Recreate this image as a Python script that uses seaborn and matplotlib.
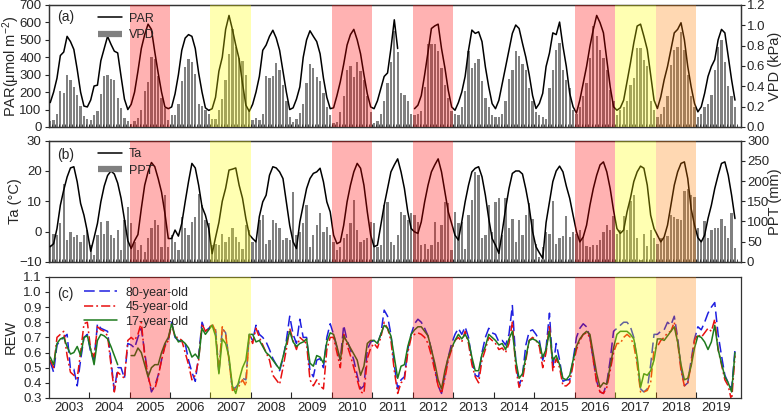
import matplotlib
matplotlib.use("Agg")
import matplotlib.pyplot as plt
import numpy as np
import pandas as pd
import seaborn as sns
from matplotlib.lines import Line2D

sns.set_style("ticks")
plt.rcParams["font.family"] = ["Liberation Sans", "DejaVu Sans"]
plt.rcParams["mathtext.default"] = "regular"

nan = np.nan

# DATA (monthly, Jan 2003 - Dec 2019)
years = list(range(2003, 2020))
shade_years = [2005, 2007, 2010, 2012, 2016, 2017, 2018]
shade_colors = ["#ff0000", "#ffff00", "#ff0000", "#ff0000", "#ff0000", "#ffff00", "#ff7f00"]

par = [
    140, 200, 280, 410, 430, 520, 490, 445, 330, 200, 120, 115,
    155, 235, 240, 380, 450, 520, 475, 435, 425, 290, 160, 100,
    130, 200, 320, 450, 530, 590, 560, 430, 310, 200, 115, 105,
    115, 190, 300, 440, 510, 530, 520, 450, 310, 200, 110, 95,
    105, 170, 320, 400, 560, 640, 560, 470, 390, 250, 125, 90,
    130, 200, 290, 440, 470, 520, 555, 510, 440, 320, 200, 100,
    110, 160, 230, 400, 500, 552, 520, 490, 420, 280, 170, 105,
    110, 180, 260, 360, 470, 530, 560, 500, 420, 300, 190, 115,
    105, 150, 220, 290, 310, 450, 615, 450, nan, nan, nan, nan,
    105, 125, 180, 300, 430, 565, 580, 590, 450, 340, 210, 115,
    96, 140, 200, 290, 440, 556, 537, 546, 490, 345, 230, 134,
    105, 153, 250, 345, 440, 537, 585, 565, 480, 400, 300, 180,
    106, 135, 193, 347, 424, 540, 530, 602, 463, 347, 193, 116,
    80, 154, 250, 347, 463, 560, 640, 598, 540, 386, 231, 116,
    96, 110, 154, 260, 366, 482, 579, 590, 520, 444, 300, 154,
    106, 173, 270, 347, 444, 540, 560, 598, 500, 347, 231, 135,
    87, 116, 193, 290, 347, 386, 500, 560, 540, 405, 270, 154,
]

vpd = [
    0.06, 0.065, 0.13, 0.35, 0.33, 0.51, 0.46, 0.39, 0.31, 0.21, 0.11, 0.08,
    0.07, 0.12, 0.16, 0.32, 0.50, 0.51, 0.47, 0.46, 0.29, 0.19, 0.09, 0.06,
    0.03, 0.06, 0.09, 0.17, 0.35, 0.44, 0.69, 0.67, 0.50, 0.29, 0.19, 0.07,
    0.12, 0.12, 0.23, 0.45, 0.59, 0.67, 0.64, 0.52, 0.23, 0.21, 0.17, 0.13,
    0.08, 0.08, 0.17, 0.28, 0.46, 0.72, 0.96, 0.79, 0.68, 0.65, 0.51, 0.17,
    0.07, 0.09, 0.07, 0.13, 0.50, 0.48, 0.50, 0.63, 0.56, 0.41, 0.26, 0.10,
    0.05, 0.08, 0.14, 0.23, 0.43, 0.62, 0.58, 0.49, 0.45, 0.33, 0.20, 0.12,
    0.04, 0.05, 0.15, 0.30, 0.56, 0.60, 0.49, 0.64, 0.55, 0.46, 0.30, 0.15,
    0.04, 0.06, 0.13, 0.26, 0.43, 0.64, 0.94, 0.74, 0.33, 0.31, 0.26, 0.13,
    0.12, 0.13, 0.16, 0.39, 0.82, 0.82, 0.82, 0.75, 0.58, 0.41, 0.29, 0.16,
    0.13, 0.12, 0.20, 0.35, 0.75, 0.58, 0.63, 0.67, 0.45, 0.29, 0.20, 0.12,
    0.10, 0.10, 0.13, 0.26, 0.47, 0.56, 0.75, 0.70, 0.62, 0.56, 0.38, 0.26,
    0.15, 0.12, 0.10, 0.08, 0.38, 0.56, 0.76, 0.83, 0.56, 0.46, 0.38, 0.17,
    0.13, 0.20, 0.30, 0.43, 0.68, 0.99, 0.89, 0.76, 0.68, 0.56, 0.36, 0.26,
    0.12, 0.17, 0.20, 0.26, 0.41, 0.48, 0.78, 0.78, 0.66, 0.60, 0.26, 0.17,
    0.10, 0.13, 0.20, 0.30, 0.61, 0.76, 0.79, 0.93, 0.76, 0.51, 0.30, 0.20,
    0.10, 0.13, 0.20, 0.23, 0.31, 0.56, 0.79, 0.86, 0.64, 0.40, 0.30, 0.20,
]

ta = [
    -5, -4, 1, 8.7, 13.7, 18, 21, 21.4, 16.4, 9.3, 5.4, 0,
    -6.5, -2, 2.7, 9.8, 15, 18.5, 20, 19, 16, 11, 4, -3,
    -5.6, -3, -1, 7.6, 15.3, 19.7, 22.8, 21.4, 17.5, 13, 6, -2.3,
    -2.3, 0.5, -1.5, 2.7, 9.8, 16.5, 22.5, 21, 15.3, 8.2, 5.4, 1,
    -7.3, -2, 3, 10, 14.3, 20.3, 20.6, 21, 15.3, 11, 4.3, -1,
    -2.3, -3.4, 5, 9.8, 12, 18.6, 21.4, 21, 19.7, 17.5, 9.8, 2,
    -3.4, -5.6, 3.2, 8.7, 14.2, 17.5, 19.2, 19.7, 20.9, 16.4, 9.8, 6.5,
    -1.2, -4, -3.4, 2.1, 9.8, 15.3, 19.7, 22.5, 20.9, 15.3, 6.5, -1.2,
    -5, -4.5, 2.1, 8.7, 14.2, 19.7, 22, 24, 19.7, 14.2, 6.5, 1,
    -0.1, -0.6, 3.2, 9.8, 15.3, 19.7, 22, 24, 19.7, 13.1, 6.5, 2.7,
    -1.2, -2.8, 3.2, 9.8, 15.3, 19.7, 20.9, 21.4, 18.1, 12, 4.3, -2.3,
    -4.5, -7.2, 0, 7.6, 14.2, 19.2, 20, 20, 19, 14, 8, 0,
    -5, -7, -8.8, 3, 9.8, 16.5, 20, 21.6, 19.7, 15, 11, 5.4,
    0, -3.4, -1.8, 2.1, 8.7, 14.2, 18.6, 22, 23, 19.7, 14.2, 7,
    1, -0.6, 0.5, 6.5, 11, 16.5, 19.7, 21.6, 20.9, 15.3, 5.4, 1,
    -1.2, -3.4, -1.8, 2.1, 8.7, 15.3, 19.7, 22.5, 23, 17.5, 7.6, 2.1,
    -2, -3.4, -1.2, 4.3, 8.7, 14.2, 18.6, 22.5, 23, 18.6, 12, 4.3,
]

ppt = [
    41, 70, 66, 95, 194, 54, 74, 62, 66, 50, 66, 78,
    41, 17, 66, 99, 70, 101, 66, 58, 78, 29, 103, 135,
    95, 50, 29, 41, 25, 58, 83, 103, 91, 37, 165, 37,
    66, 50, 29, 112, 83, 66, 99, 112, 169, 140, 103, 95,
    41, 45, 41, 70, 50, 62, 83, 62, 50, 33, 91, 78,
    50, 50, 103, 116, 45, 54, 103, 95, 83, 54, 58, 54,
    174, 66, 74, 97, 140, 37, 66, 91, 120, 74, 87, 66,
    50, 29, 37, 58, 70, 95, 153, 79, 50, 54, 58, 99,
    95, 37, 41, 140, 149, 50, 41, 66, 124, 116, 103, 120,
    116, 99, 41, 45, 33, 41, 99, 50, 91, 149, 145, 29,
    124, 95, 99, 33, 116, 153, 223, 215, 58, 66, 140, 74,
    149, 157, 66, 157, 83, 107, 50, 103, 66, 116, 145, 107,
    45, 12, 37, 75, 70, 150, 45, 58, 65, 113, 62, 75,
    70, 80, 62, 40, 38, 42, 42, 55, 75, 92, 78, 113,
    70, 80, 113, 80, 150, 165, 60, 5, 70, 40, 80, 60,
    45, 60, 60, 65, 115, 110, 105, 104, 175, 180, 165, 160,
    85, 55, 100, 60, 80, 85, 85, 105, 90, 60, 120, 35,
]

rew_80 = [
    0.54, 0.47, 0.65, 0.68, 0.70, 0.72, 0.49, 0.49, 0.38, 0.55, 0.70, 0.72,
    0.60, 0.55, 0.79, 0.76, 0.75, 0.74, 0.55, 0.35, 0.50, 0.50, 0.43, 0.66,
    0.65, 0.63, 0.70, 0.76, 0.60, 0.45, 0.34, 0.38, 0.45, 0.55, 0.65, 0.68,
    0.80, 0.70, 0.68, 0.67, 0.66, 0.55, 0.47, 0.41, 0.58, 0.80, 0.74, 0.76,
    0.78, 0.76, 0.46, 0.76, 0.73, 0.55, 0.36, 0.37, 0.40, 0.43, 0.42, 0.72,
    0.68, 0.78, 0.72, 0.70, 0.67, 0.62, 0.56, 0.52, 0.48, 0.56, 0.68, 0.84,
    0.72, 0.66, 0.82, 0.70, 0.70, 0.48, 0.44, 0.55, 0.56, 0.50, 0.70, 0.79,
    0.72, 0.63, 0.55, 0.78, 0.68, 0.62, 0.55, 0.45, 0.36, 0.38, 0.62, 0.67,
    0.68, 0.66, 0.72, 0.88, 0.84, 0.72, 0.52, 0.36, 0.42, 0.44, 0.62, 0.72,
    0.79, 0.82, 0.80, 0.76, 0.71, 0.62, 0.50, 0.38, 0.33, 0.45, 0.57, 0.66,
    0.72, 0.76, 0.72, 0.77, 0.70, 0.55, 0.45, 0.44, 0.60, 0.70, 0.76, 0.73,
    0.72, 0.67, 0.68, 0.65, 0.72, 0.91, 0.55, 0.38, 0.45, 0.65, 0.74, 0.75,
    0.72, 0.68, 0.55, 0.63, 0.86, 0.50, 0.66, 0.55, 0.41, 0.42, 0.42, 0.55,
    0.70, 0.76, 0.79, 0.77, 0.70, 0.55, 0.41, 0.34, 0.33, 0.40, 0.55, 0.74,
    0.76, 0.78, 0.80, 0.80, 0.77, 0.70, 0.55, 0.36, 0.34, 0.36, 0.52, 0.72,
    0.72, 0.74, 0.75, 0.80, 0.78, 0.84, 0.70, 0.50, 0.38, 0.40, 0.55, 0.69,
    0.77, 0.75, 0.80, 0.86, 0.90, 0.93, 0.72, 0.58, 0.45, 0.40, 0.36, 0.62,
]

rew_45 = [
    0.55, 0.50, 0.70, 0.72, 0.74, 0.58, 0.47, 0.45, 0.43, 0.60, 0.79, 0.80,
    0.62, 0.57, 0.77, 0.75, 0.74, 0.71, 0.52, 0.34, 0.47, 0.45, 0.43, 0.68,
    0.70, 0.68, 0.72, 0.80, 0.58, 0.44, 0.36, 0.36, 0.44, 0.55, 0.64, 0.68,
    0.79, 0.70, 0.70, 0.68, 0.60, 0.52, 0.42, 0.45, 0.55, 0.79, 0.74, 0.76,
    0.79, 0.74, 0.47, 0.77, 0.72, 0.55, 0.35, 0.36, 0.38, 0.42, 0.38, 0.72,
    0.66, 0.76, 0.70, 0.65, 0.60, 0.55, 0.45, 0.42, 0.39, 0.50, 0.62, 0.76,
    0.68, 0.62, 0.70, 0.68, 0.66, 0.42, 0.38, 0.42, 0.38, 0.36, 0.62, 0.70,
    0.70, 0.60, 0.50, 0.72, 0.65, 0.58, 0.50, 0.42, 0.34, 0.33, 0.56, 0.63,
    0.66, 0.63, 0.70, 0.80, 0.76, 0.68, 0.48, 0.33, 0.40, 0.42, 0.60, 0.70,
    0.72, 0.73, 0.72, 0.70, 0.66, 0.58, 0.48, 0.38, 0.33, 0.43, 0.55, 0.62,
    0.68, 0.70, 0.67, 0.74, 0.66, 0.52, 0.44, 0.40, 0.55, 0.62, 0.70, 0.68,
    0.66, 0.62, 0.63, 0.60, 0.66, 0.80, 0.50, 0.37, 0.42, 0.55, 0.68, 0.70,
    0.68, 0.64, 0.50, 0.60, 0.78, 0.48, 0.56, 0.50, 0.38, 0.38, 0.40, 0.52,
    0.62, 0.68, 0.72, 0.73, 0.70, 0.55, 0.40, 0.34, 0.33, 0.37, 0.48, 0.60,
    0.66, 0.66, 0.70, 0.72, 0.70, 0.65, 0.52, 0.34, 0.34, 0.35, 0.40, 0.62,
    0.64, 0.68, 0.70, 0.73, 0.74, 0.80, 0.67, 0.48, 0.38, 0.40, 0.52, 0.68,
    0.72, 0.70, 0.73, 0.76, 0.74, 0.82, 0.62, 0.52, 0.42, 0.38, 0.28, 0.58,
]

rew_17 = [
    0.57, 0.52, 0.66, 0.69, 0.70, 0.64, 0.59, 0.60, 0.64, 0.58, 0.70, 0.71,
    0.62, 0.52, 0.68, 0.72, 0.71, 0.69, 0.64, 0.58, 0.52, nan, nan, nan,
    0.58, 0.58, 0.63, 0.60, 0.52, 0.44, 0.50, 0.52, 0.52, 0.60, 0.66, 0.70,
    0.79, 0.71, 0.67, 0.68, 0.66, 0.63, 0.57, 0.59, 0.56, 0.76, 0.72, 0.75,
    0.78, 0.71, 0.46, 0.69, 0.66, 0.57, 0.38, 0.33, 0.42, 0.50, 0.55, 0.72,
    0.72, 0.67, 0.68, 0.64, 0.60, 0.58, 0.55, 0.52, 0.49, 0.57, 0.66, 0.74,
    0.67, 0.64, 0.66, 0.67, 0.69, 0.53, 0.51, 0.58, 0.57, 0.53, 0.67, 0.73,
    0.72, 0.64, 0.55, 0.71, 0.67, 0.63, 0.59, 0.55, 0.45, 0.51, 0.66, 0.68,
    0.68, 0.66, 0.72, 0.78, 0.76, 0.71, 0.57, 0.43, 0.51, 0.52, 0.64, 0.72,
    0.75, 0.77, 0.77, 0.74, 0.71, 0.62, 0.53, 0.42, 0.36, 0.48, 0.57, 0.63,
    0.68, 0.72, 0.69, 0.72, 0.68, 0.57, 0.48, 0.48, 0.59, 0.64, 0.72, 0.70,
    0.68, 0.65, 0.66, 0.62, 0.69, 0.74, 0.55, 0.43, 0.46, 0.57, 0.68, 0.69,
    0.68, 0.66, 0.57, 0.62, 0.74, 0.55, 0.58, 0.52, 0.43, 0.42, 0.45, 0.55,
    0.64, 0.69, 0.72, 0.74, 0.72, 0.59, 0.46, 0.37, 0.40, 0.39, 0.51, 0.63,
    0.72, 0.74, 0.74, 0.74, 0.72, 0.69, 0.57, 0.37, 0.46, 0.45, 0.48, 0.55,
    0.69, 0.69, 0.68, 0.71, 0.74, 0.77, 0.67, 0.52, 0.42, 0.43, 0.51, 0.63,
    0.71, 0.70, 0.67, 0.62, 0.67, 0.78, 0.62, 0.53, 0.44, 0.40, 0.34, 0.60,
]

n = len(years) * 12
t = years[0] + (np.arange(n) + 0.5) / 12
df = pd.DataFrame({"t": t, "PAR": par, "VPD": vpd, "Ta": ta, "PPT": ppt,
                   "80": rew_80, "45": rew_45, "17": rew_17})

fig = plt.figure(figsize=(7.83, 4.15), dpi=100)
left, width = 0.062, 0.884
ax_a = fig.add_axes([left, 0.694, width, 0.294])
ax_b = fig.add_axes([left, 0.369, width, 0.292])
ax_c = fig.add_axes([left, 0.041, width, 0.292])

bar_color = "#808080"
bar_w = 0.68 / 12
fs = 9.5
lab_fs = 10.5


def shade(ax):
    for yr, c in zip(shade_years, shade_colors):
        ax.axvspan(yr, yr + 1, color=c, alpha=0.3, lw=0, zorder=5)


def style_x(ax, labels=False):
    ax.set_xlim(years[0], years[-1] + 1.1)
    ax.set_xticks(np.arange(years[0] + 1, years[-1] + 1))
    ax.set_xticks(np.arange(years[0], years[-1] + 1) + 0.5, minor=True)
    if labels:
        ax.set_xticklabels([])
        ax.set_xticklabels([str(y) for y in years], minor=True, fontsize=fs)
        ax.tick_params(axis="x", which="major", direction="in", length=4)
        ax.tick_params(axis="x", which="minor", length=0, pad=3)
    else:
        ax.set_xticks(years[0] + np.arange(1, n + 1) / 12, minor=True)
        ax.set_xticklabels([])
        ax.tick_params(axis="x", which="both", direction="in", length=2)


def legend_handles():
    return [Line2D([], [], color="black", lw=1.1),
            Line2D([], [], color=bar_color, lw=4.5, solid_capstyle="butt")]


# (a) PAR + VPD
ax_a2 = ax_a.twinx()
ax_a2.bar(df["t"], df["VPD"], width=bar_w, color=bar_color, lw=0)
ax_a.plot(df["t"], df["PAR"], color="black", lw=1.1, zorder=4)
ax_a.set_zorder(ax_a2.get_zorder() + 1)
ax_a.patch.set_visible(False)
ax_a.set_ylim(0, 700)
ax_a.set_yticks(range(0, 701, 100))
ax_a2.set_ylim(0, 1.2)
ax_a2.set_yticks(np.arange(0, 1.21, 0.2))
ax_a2.set_yticklabels([f"{v:.1f}" for v in np.arange(0, 1.21, 0.2)])
ax_a.set_ylabel("PAR(\u03bcmol m$^{-2}$)", fontsize=lab_fs)
ax_a2.set_ylabel("VPD (kPa)", fontsize=lab_fs)
shade(ax_a)
style_x(ax_a)
ax_a.text(0.012, 0.9, "(a)", transform=ax_a.transAxes, fontsize=10, va="center")
ax_a.legend(handles=legend_handles(), labels=["PAR", "VPD"], loc="upper left",
            bbox_to_anchor=(0.055, 1.03), frameon=False, fontsize=9,
            handlelength=1.9, handletextpad=0.6, labelspacing=0.35)

# (b) Ta + PPT
ax_b2 = ax_b.twinx()
ax_b2.bar(df["t"], df["PPT"], width=bar_w, color=bar_color, lw=0)
sns.lineplot(data=df, x="t", y="Ta", ax=ax_b, color="black", lw=1.1, zorder=4)
ax_b.set_zorder(ax_b2.get_zorder() + 1)
ax_b.patch.set_visible(False)
ax_b.set_ylim(-10, 30)
ax_b.set_yticks(range(-10, 31, 10))
ax_b2.set_ylim(0, 300)
ax_b2.set_yticks(range(0, 301, 50))
ax_b.set_ylabel("Ta (\u00b0C)", fontsize=lab_fs)
ax_b2.set_ylabel("PPT (mm)", fontsize=lab_fs)
ax_b.set_xlabel("")
shade(ax_b)
style_x(ax_b)
ax_b.text(0.012, 0.88, "(b)", transform=ax_b.transAxes, fontsize=10, va="center")
ax_b.legend(handles=legend_handles(), labels=["Ta", "PPT"], loc="upper left",
            bbox_to_anchor=(0.055, 1.03), frameon=False, fontsize=9,
            handlelength=1.9, handletextpad=0.6, labelspacing=0.35)

# (c) REW
l80, = ax_c.plot(df["t"], df["80"], color="#1f1fe0", lw=1.1, dashes=(7, 3))
l45, = ax_c.plot(df["t"], df["45"], color="#e81010", lw=1.1, dashes=(6, 2, 1.2, 2))
l17, = ax_c.plot(df["t"], df["17"], color="#1e7a1e", lw=1.1)
ax_c.set_ylim(0.3, 1.1)
ax_c.set_yticks(np.arange(0.3, 1.101, 0.1))
ax_c.set_yticklabels([f"{v:.1f}" for v in np.arange(0.3, 1.101, 0.1)])
ax_c.set_ylabel("REW", fontsize=lab_fs)
shade(ax_c)
style_x(ax_c, labels=True)
ax_c.text(0.012, 0.86, "(c)", transform=ax_c.transAxes, fontsize=10, va="center")
ax_c.legend(handles=[l80, l45, l17], labels=["80-year-old", "45-year-old", "17-year-old"],
            loc="upper left", bbox_to_anchor=(0.035, 1.01), frameon=False,
            fontsize=9, handlelength=2.6, handletextpad=0.7, labelspacing=0.2)

for ax in [ax_a, ax_b, ax_c]:
    ax.tick_params(axis="y", labelsize=fs, length=3, pad=2)
for ax in [ax_a2, ax_b2]:
    ax.tick_params(axis="y", labelsize=fs, length=3, pad=1.5)
for ax in [ax_a, ax_a2, ax_b, ax_b2, ax_c]:
    for s in ax.spines.values():
        s.set_linewidth(0.9)
        s.set_color("#333333")

# y-label positions (left label right edge ~22px, right label left edge ~766px)
for ax in [ax_a, ax_b]:
    ax.yaxis.set_label_coords(-0.039, 0.5)
ax_c.yaxis.set_label_coords(-0.045, 0.5)
for ax in [ax_a2, ax_b2]:
    ax.yaxis.set_label_coords(1.04, 0.5)

plt.savefig("out.png", dpi=100)
